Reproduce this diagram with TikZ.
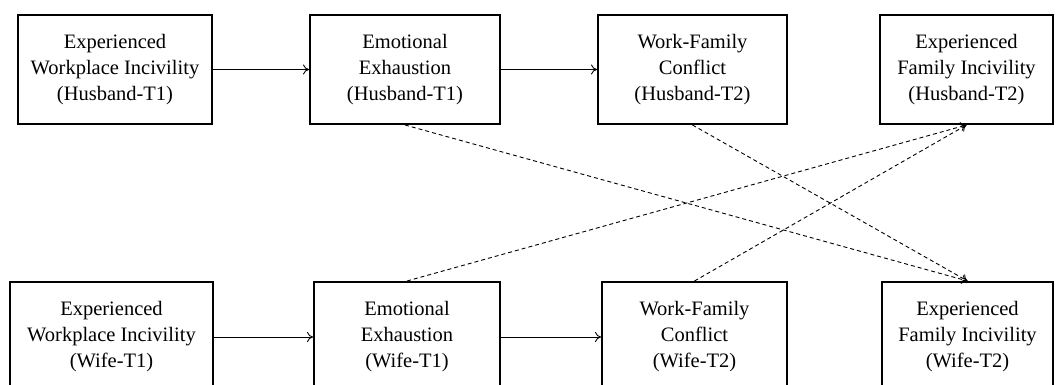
\documentclass[tikz,border=0pt]{standalone}
\usepackage{fontspec}
\setmainfont{Liberation Serif}
\usetikzlibrary{positioning,arrows.meta}

\tikzset{
  var/.style={draw, line width=2pt, align=center, inner sep=0pt, font=\fontsize{20.5}{26}\selectfont},
  path/.style={-{To[length=6pt,width=10pt]}, line width=0.9pt},
  cross/.style={-{To[length=6pt,width=9pt]}, line width=0.9pt, dash pattern=on 4pt off 3pt}
}

\begin{document}
\begin{tikzpicture}[x=1pt, y=-1pt]
\useasboundingbox (0,0) rectangle (1058,385);
% husband
\node[var, minimum width=194pt, minimum height=109pt] (h1) at (115,69.5) {Experienced\\Workplace Incivility\\(Husband-T1)};
\node[var, minimum width=190pt, minimum height=109pt] (h2) at (405,69.5) {Emotional\\Exhaustion\\(Husband-T1)};
\node[var, minimum width=189pt, minimum height=109pt] (h3) at (692.5,69.5) {Work-Family\\Conflict\\(Husband-T2)};
\node[var, minimum width=173pt, minimum height=109pt] (h4) at (966.5,69.5) {Experienced\\Family Incivility\\(Husband-T2)};
% wife
\node[var, minimum width=203pt, minimum height=110pt] (w1) at (111.5,337) {Experienced\\Workplace Incivility\\(Wife-T1)};
\node[var, minimum width=186pt, minimum height=110pt] (w2) at (407,337) {Emotional\\Exhaustion\\(Wife-T1)};
\node[var, minimum width=185pt, minimum height=110pt] (w3) at (694.5,337) {Work-Family\\Conflict\\(Wife-T2)};
\node[var, minimum width=171pt, minimum height=110pt] (w4) at (967.5,337) {Experienced\\Family Incivility\\(Wife-T2)};

\draw[path] (h1) -- (h2);
\draw[path] (h2) -- (h3);
\draw[path] (w1) -- (w2);
\draw[path] (w2) -- (w3);

% crossover
\draw[cross] (h2.south) -- (w4.north);
\draw[cross] (h3.south) -- (w4.north);
\draw[cross] (w2.north) -- (h4.south);
\draw[cross] (w3.north) -- (h4.south);
\end{tikzpicture}
\end{document}
